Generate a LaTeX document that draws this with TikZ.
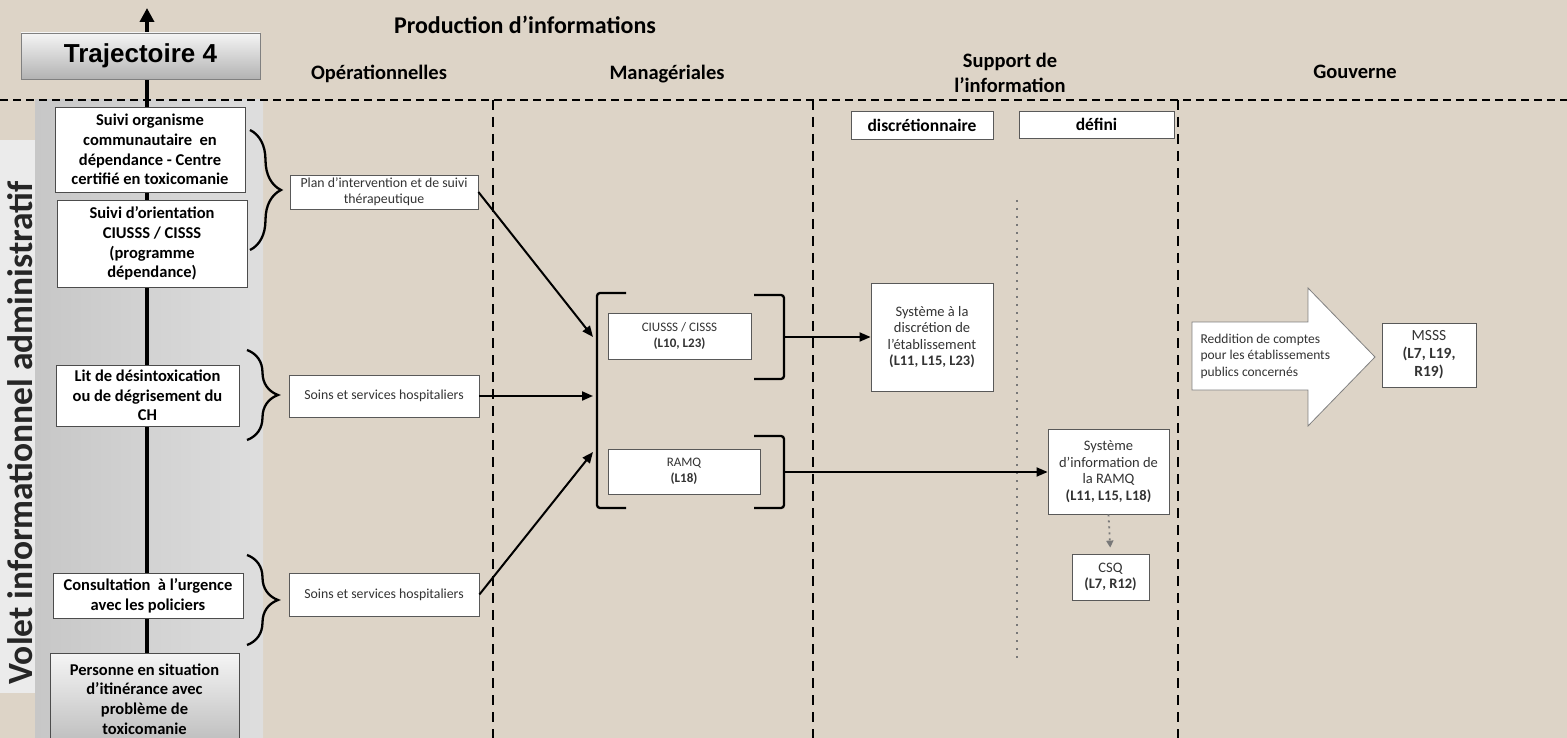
\documentclass[tikz,border=0pt]{standalone}
\usepackage{fontspec}
\setmainfont{Carlito}
\newfontfamily\arialfont{Liberation Sans}
\usepackage{tikz}
\usetikzlibrary{arrows.meta,decorations.pathreplacing,backgrounds,positioning}
\definecolor{beige}{RGB}{221,212,199}
\definecolor{dotgray}{RGB}{120,120,120}
\newcommand\fsz[2]{\fontsize{#1}{#2}\selectfont}

\begin{document}
\begin{tikzpicture}[x=1pt,y=-1pt,
    leftbox/.style={draw=black!70,fill=white,line width=0.8pt,align=center,
      inner sep=0pt,font=\fsz{16.5}{19.7}\bfseries},
    opbox/.style={draw=black!65,fill=white,line width=0.8pt,align=center,
      inner sep=0pt,text=black!80,font=\fsz{13.8}{16}},
    mgrbox/.style={draw=black!65,fill=white,line width=0.8pt,align=center,
      inner sep=0pt,text=black!80,font=\fsz{13}{16.5}},
    sysbox/.style={mgrbox,font=\fsz{14.5}{16.5}},
    headlabel/.style={font=\fsz{20.5}{25}\bfseries,align=center},
    sepline/.style={line width=2.4pt,dash pattern=on 10pt off 7pt},
    flow/.style={line width=2pt,-{Triangle[length=11pt,width=9pt]}},
    curly/.style={decorate,decoration={brace,amplitude=31pt},line width=2.3pt},
    sqbracket/.style={line width=2.3pt,rounded corners=3pt}]
  \useasboundingbox (0,0) rectangle (1567,738);
  % background and left panel
  \begin{pgfonlayer}{background}
    \fill[beige] (0,0) rectangle (1567,738);
    \shade[left color=black!22,right color=black!13] (35,100) rectangle (263,738);
    \fill[black!8] (0,140) rectangle (35,693);
  \end{pgfonlayer}
  \node[rotate=90,font=\fsz{35.5}{40}\bfseries,text=black!85] (volet) at (20,433)
    {Volet informationnel administratif};

  % headings
  \node[draw=black!50,top color=black!4,bottom color=black!30,minimum width=239pt,
    minimum height=46pt,font=\arialfont\fsz{26}{30}\bfseries] (traj) at (140.5,56)
    {Trajectoire 4};
  \node[font=\fsz{24}{28}\bfseries] (prod) at (525,25) {Production d’informations};
  \node[headlabel] (oper) at (379,74) {Opérationnelles};
  \node[headlabel] (manag) at (667,74) {Managériales};
  \node[headlabel] (supp) at (1010,72.5) {Support de\\l’information};
  \node[headlabel] (gouv) at (1355,72) {Gouverne};

  % separators
  \draw[line width=1.5pt,dash pattern=on 8pt off 5pt] (0,100) -- (1567,100);
  \foreach \xs in {493,813,1178}
    \draw[sepline] (\xs,100) -- (\xs,738);
  \draw[dotgray,line width=2pt,dash pattern=on 2pt off 6pt] (1017,200) -- (1017,663);

  % trajectory (left column)
  \node[leftbox,minimum width=190pt,minimum height=85pt] (suiviorg) at (150,149.5)
    {Suivi organisme\\communautaire\ \ en\\dépendance - Centre\\certifié en toxicomanie};
  \node[leftbox,minimum width=190pt,minimum height=87pt] (suivior) at (152,243.5)
    {Suivi d’orientation\\CIUSSS / CISSS\\(programme\\dépendance)};
  \node[leftbox,minimum width=183pt,minimum height=61pt] (lit) at (147.5,395.5)
    {Lit de désintoxication\\ou de dégrisement du\\CH};
  \node[leftbox,minimum width=190pt,minimum height=45pt] (consult) at (148,595.5)
    {Consultation\ \ à l’urgence\\avec les policiers};
  \node[leftbox,top color=black!4,bottom color=black!26,minimum width=189pt,
    minimum height=92pt] (pers) at (144.5,699)
    {Personne en situation\\d’itinérance avec\\problème de\\toxicomanie};
  \coordinate (trajtip) at (147,8);
  \begin{pgfonlayer}{background}
    \draw[line width=3.5pt,-{Triangle[length=14pt,width=14pt]}]
      (pers.north -| trajtip) -- (trajtip);
  \end{pgfonlayer}

  % operational information
  \draw[curly] (250,130) -- (250,250);
  \draw[curly] (247,350) -- (247,440);
  \draw[curly] (247,555) -- (247,645);
  \node[opbox,minimum width=188pt,minimum height=34pt] (plan) at (384,192)
    {Plan d’intervention et de suivi\\thérapeutique};
  \node[opbox,minimum width=190pt,minimum height=42pt] (soins1) at (384,396)
    {Soins et services hospitaliers};
  \node[opbox,minimum width=190pt,minimum height=43pt] (soins2) at (384,594.5)
    {Soins et services hospitaliers};

  % managerial information
  \draw[sqbracket] (626,293) -- (597,293) -- (597,508) -- (626,508);
  \draw[sqbracket] (754,295) -- (784,295) -- (784,379) -- (754,379);
  \draw[sqbracket] (754,436) -- (784,436) -- (784,508) -- (754,508);
  \node[mgrbox,minimum width=143pt,minimum height=46pt] (ciusss) at (679.5,336)
    {CIUSSS / CISSS\\\textbf{(L10, L23)}};
  \node[mgrbox,minimum width=152pt,minimum height=45pt] (ramq) at (684,471.5)
    {RAMQ\\\textbf{(L18)}};
  \coordinate (inA) at (593,337);
  \coordinate (inC) at (593,452);
  \coordinate (outA) at (784,337);
  \coordinate (outB) at (784,472);
  \draw[flow] (plan.east) -- (inA);
  \draw[flow] (soins1.east) -- (soins1.east -| inA);
  \draw[flow] (soins2.east) -- (inC);

  % information support
  \node[draw=black!65,fill=white,line width=0.8pt,minimum width=142pt,minimum height=28pt,
    font=\fsz{17.5}{20}\bfseries] (discr) at (922,125) {discrétionnaire};
  \node[draw=black!65,fill=white,line width=0.8pt,minimum width=155pt,minimum height=27pt,
    font=\fsz{17.5}{20}\bfseries] (defini) at (1096.5,124.5) {défini};
  \node[sysbox,minimum width=122pt,minimum height=108pt] (sysd) at (932,337)
    {Système à la\\discrétion de\\l’établissement\\\textbf{(L11, L15, L23)}};
  \node[sysbox,minimum width=121pt,minimum height=85pt] (sysr) at (1108.5,471.5)
    {Système\\d’information de\\la RAMQ\\\textbf{(L11, L15, L18)}};
  \node[sysbox,minimum width=77pt,minimum height=46pt] (csq) at (1110.5,577)
    {CSQ\\\textbf{(L7, R12)}};
  \draw[flow,line width=1.8pt] (outA) -- (sysd.west);
  \draw[flow,line width=1.8pt] (outB) -- (outB -| sysr.west);
  \draw[dotgray,line width=1.8pt,dash pattern=on 2pt off 4pt,
    -{Triangle[length=7pt,width=7pt]},shorten >=6pt] (sysr.south) -- (csq.north);

  % governance
  \draw[draw=black!50,fill=white,line width=0.8pt] (1192,322) -- (1308,322) -- (1308,288)
    -- (1375,357) -- (1308,426) -- (1308,390) -- (1192,390) -- cycle;
  \node[anchor=west,align=left,text=black!80,font=\fsz{13.5}{16.5}] (redd) at (1197,356)
    {Reddition de comptes\\pour les établissements\\publics concernés};
  \node[mgrbox,minimum width=94pt,minimum height=64pt,font=\fsz{15.5}{18}] (msss)
    at (1429,355) {MSSS\\\textbf{(L7, L19,}\\\textbf{R19)}};
\end{tikzpicture}
\end{document}
